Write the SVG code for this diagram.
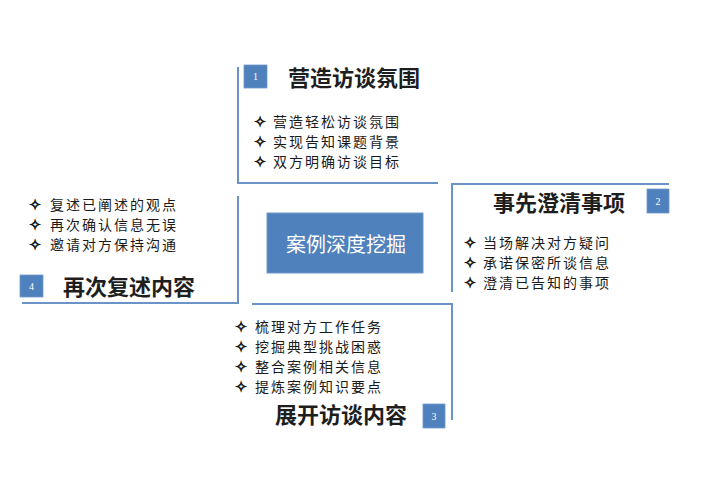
<svg xmlns="http://www.w3.org/2000/svg" width="701" height="481" viewBox="0 0 701 481">
<style>
.ln{fill:none;stroke:#6a93c8;stroke-width:2}
.badge{fill:#4f81bd;stroke:#6f99cc;stroke-width:0.8}
.num{font-family:"Liberation Serif",serif;font-size:10px;fill:#ffffff;text-anchor:middle}
.title{font-family:"Noto Sans CJK SC","Noto Sans",sans-serif;font-size:22px;font-weight:bold;fill:#1e1e1e}
.item{font-family:"Noto Sans CJK SC","Noto Sans",sans-serif;font-size:14px;letter-spacing:2px;fill:#1a1a1a}
.bul{font-family:"DejaVu Sans",sans-serif;font-size:15px;fill:#1a1a1a;stroke:#1a1a1a;stroke-width:0.7;text-anchor:middle}
.center{font-family:"Noto Sans CJK SC","Noto Sans",sans-serif;font-size:20px;fill:#ffffff;text-anchor:middle}
</style>
<rect width="701" height="481" fill="#ffffff"/>
<g id="center">
<rect x="267" y="213" width="156" height="60" fill="#4f81bd" stroke="#6f99cc" stroke-width="1"/>
<text class="center" x="346" y="252">案例深度挖掘</text>
</g>
<g id="node1">
<polyline class="ln" points="238,67 238,183 438,183"/>
<rect class="badge" x="244" y="65" width="23" height="23"/>
<text class="num" x="255.5" y="80">1</text>
<text class="title" x="288" y="86">营造访谈氛围</text>
<text class="bul" x="260" y="127">✧</text><text class="item" x="273" y="127">营造轻松访谈氛围</text>
<text class="bul" x="260" y="147">✧</text><text class="item" x="273" y="147">实现告知课题背景</text>
<text class="bul" x="260" y="167">✧</text><text class="item" x="273" y="167">双方明确访谈目标</text>
</g>
<g id="node2">
<polyline class="ln" points="669,184 452,184 452,292"/>
<rect class="badge" x="647" y="189" width="22" height="24"/>
<text class="num" x="658" y="205">2</text>
<text class="title" x="493" y="211">事先澄清事项</text>
<text class="bul" x="470" y="248">✧</text><text class="item" x="483" y="248">当场解决对方疑问</text>
<text class="bul" x="470" y="268">✧</text><text class="item" x="483" y="268">承诺保密所谈信息</text>
<text class="bul" x="470" y="288">✧</text><text class="item" x="483" y="288">澄清已告知的事项</text>
</g>
<g id="node3">
<polyline class="ln" points="252,304 452,304 452,420"/>
<rect class="badge" x="423" y="404" width="22" height="24"/>
<text class="num" x="434" y="420">3</text>
<text class="title" x="275" y="423">展开访谈内容</text>
<text class="bul" x="241" y="332">✧</text><text class="item" x="255" y="332">梳理对方工作任务</text>
<text class="bul" x="241" y="352">✧</text><text class="item" x="255" y="352">挖掘典型挑战困惑</text>
<text class="bul" x="241" y="372">✧</text><text class="item" x="255" y="372">整合案例相关信息</text>
<text class="bul" x="241" y="392">✧</text><text class="item" x="255" y="392">提炼案例知识要点</text>
</g>
<g id="node4">
<polyline class="ln" points="238,196 238,303 22,303"/>
<rect class="badge" x="20" y="275" width="23" height="22"/>
<text class="num" x="31.5" y="290">4</text>
<text class="title" x="63" y="295">再次复述内容</text>
<text class="bul" x="35" y="210">✧</text><text class="item" x="50" y="210">复述已阐述的观点</text>
<text class="bul" x="35" y="230">✧</text><text class="item" x="50" y="230">再次确认信息无误</text>
<text class="bul" x="35" y="250">✧</text><text class="item" x="50" y="250">邀请对方保持沟通</text>
</g>
<g id="connectors"></g>
</svg>
